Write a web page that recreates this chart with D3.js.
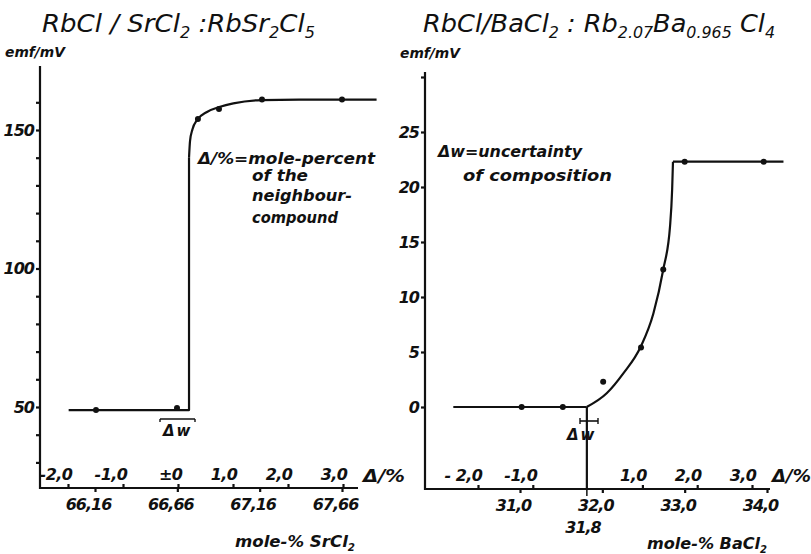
<!DOCTYPE html>
<html><head><meta charset="utf-8">
<script src="https://cdn.jsdelivr.net/npm/d3@7"></script>
<style>
body{margin:0;background:#fff;}
svg text{font-family:"DejaVu Sans","Liberation Sans",sans-serif;font-style:italic;fill:#111;}
</style></head>
<body><svg id="c" width="811" height="554"></svg>
<script>
// ---------- data ----------
// Left panel: RbCl / SrCl2
const leftPtsMole = [66.166, 66.658, 66.785, 66.913, 67.174, 67.66];
const leftPtsEmf  = [48.9, 49.6, 154.0, 157.6, 161.0, 161.0];
const leftStepMole = [66.00, 66.731, 66.731];
const leftStepEmf  = [48.9, 48.9, 140];
const leftKneeMole = [66.731, 66.737, 66.752, 66.78, 66.84, 66.92, 67.0, 67.17, 67.40, 67.87];
const leftKneeEmf  = [140, 146, 150.3, 153.6, 156.5, 158.4, 159.6, 160.8, 161.0, 161.0];
const leftYTicks = [30,40,50,60,70,80,90,100,110,120,130,140,150,160];
const leftYLabels = [50,100,150];
const leftDeltaTicks = [-2,-1,0,1,2,3];
const leftDeltaLabels = ["-2,0","-1,0","±0","1,0","2,0","3,0"];
const leftMoleTicks = [66.16,66.66,67.16,67.66];
const leftMoleLabels = ["66,16","66,66","67,16","67,66"];

// Right panel: RbCl / BaCl2
const rightPtsMole = [31.02, 31.52, 32.01, 32.47, 32.74, 33.00, 33.96];
const rightPtsEmf  = [0, 0, 2.3, 5.4, 12.5, 22.3, 22.3];
const rightFlatMole = [30.19, 31.81];
const rightFlatEmf  = [0, 0];
const rightRiseMole = [31.81, 32.053, 32.255, 32.466, 32.62, 32.74, 32.822, 32.848, 32.858];
const rightRiseEmf  = [0, 1.25, 3.06, 5.48, 8.5, 12.5, 16.4, 19.8, 22.3];
const rightTopMole = [32.858, 34.2];
const rightTopEmf  = [22.3, 22.3];
const rightMarkMole = 31.8;
const rightYTicks = [0,5,10,15,20,25,30];
const rightYLabels = [0,5,10,15,20,25];
const rightDeltaTicks = [-2,-1,1,2,3];
const rightDeltaLabels = ["- 2,0","-1,0","1,0","2,0","3,0"];
const rightMoleTicks = [31,32,33,34];
const rightMoleLabels = ["31,0","32,0","33,0","34,0"];

// ---------- drawing ----------
const svg = d3.select("#c");
const SW = 2.2;

function fit(sel, w){ sel.attr("textLength", w).attr("lengthAdjust","spacingAndGlyphs"); return sel; }

function panel(cfg){
  const x = cfg.x, d = cfg.d, y = cfg.y;
  const g = svg.append("g");
  g.append("line").attr("x1",cfg.ax).attr("x2",cfg.ax).attr("y1",cfg.yTop).attr("y2",cfg.yBot+1)
    .attr("stroke","#111").attr("stroke-width",SW);
  g.append("line").attr("x1",cfg.ax-1).attr("x2",cfg.xEnd).attr("y1",cfg.yBot).attr("y2",cfg.yBot)
    .attr("stroke","#111").attr("stroke-width",SW);
  const ya = g.append("g").attr("transform",`translate(${cfg.ax},0)`)
    .call(d3.axisLeft(y).tickValues(cfg.yTicks).tickSize(4).tickPadding(2)
      .tickFormat(v=>cfg.yLabels.includes(v)? String(v):""));
  ya.select(".domain").remove();
  ya.selectAll("line").attr("stroke","#111").attr("stroke-width",SW);
  ya.selectAll("text").attr("font-size",16).attr("font-weight","bold").attr("fill","#111")
    .attr("font-family",'"DejaVu Sans",sans-serif').attr("letter-spacing",-1);
  const da = g.append("g").attr("transform",`translate(0,${cfg.yBot})`)
    .call(d3.axisTop(d).tickValues(cfg.dTicks).tickSize(4).tickPadding(4)
      .tickFormat((v,i)=>cfg.dLabels[i]));
  da.select(".domain").remove();
  da.selectAll("line").attr("stroke","#111").attr("stroke-width",SW);
  da.selectAll("text").attr("font-size",16).attr("font-weight","bold").attr("fill","#111")
    .attr("text-anchor","end").attr("dx",4).attr("font-family",'"DejaVu Sans",sans-serif').attr("letter-spacing",-0.5);
  const ma = g.append("g").attr("transform",`translate(0,${cfg.yBot})`)
    .call(d3.axisBottom(x).tickValues(cfg.mTicks).tickSize(4).tickPadding(7)
      .tickFormat((v,i)=>cfg.mLabels[i]));
  ma.select(".domain").remove();
  ma.selectAll("line").attr("stroke","#111").attr("stroke-width",SW);
  ma.selectAll("text").attr("font-size",16).attr("font-weight","bold").attr("fill","#111")
    .attr("dx",-7).attr("font-family",'"DejaVu Sans",sans-serif').attr("letter-spacing",-1);
  cfg.lines.forEach(L=>{
    const pts = L.mx.map((m,i)=>[m, L.e[i]]);
    g.append("path").attr("d", d3.line().x(p=>x(p[0])).y(p=>y(p[1])).curve(L.curve)(pts))
      .attr("fill","none").attr("stroke","#111").attr("stroke-width",SW).attr("stroke-linejoin","round");
  });
  g.selectAll("circle.pt").data(cfg.pm.map((m,i)=>[m,cfg.pe[i]])).join("circle")
    .attr("cx",p=>x(p[0])).attr("cy",p=>y(p[1])).attr("r",3).attr("fill","#111");
  return g;
}

// LEFT
const xL = d3.scaleLinear().domain([66.16,67.66]).range([95,342]);
const dL = d3.scaleLinear().domain([-2,3]).range([68,343]);
const yL = d3.scaleLinear().domain([50,150]).range([407,130]);
panel({x:xL,d:dL,y:yL,ax:40,yTop:66,yBot:488,xEnd:358,
  yTicks:leftYTicks,yLabels:leftYLabels,dTicks:leftDeltaTicks,dLabels:leftDeltaLabels,
  mTicks:leftMoleTicks,mLabels:leftMoleLabels,
  lines:[{mx:leftStepMole,e:leftStepEmf,curve:d3.curveLinear},
         {mx:leftKneeMole,e:leftKneeEmf,curve:d3.curveMonotoneX}],
  pm:leftPtsMole,pe:leftPtsEmf});

// RIGHT
const xR = d3.scaleLinear().domain([31,34]).range([520,767]);
const dR = d3.scaleLinear().domain([-2,3]).range([478,752]);
const yR = d3.scaleLinear().domain([0,25]).range([407,132]);
panel({x:xR,d:dR,y:yR,ax:425,yTop:72,yBot:489,xEnd:770,
  yTicks:rightYTicks,yLabels:rightYLabels,dTicks:rightDeltaTicks,dLabels:rightDeltaLabels,
  mTicks:rightMoleTicks,mLabels:rightMoleLabels,
  lines:[{mx:rightFlatMole,e:rightFlatEmf,curve:d3.curveLinear},
         {mx:rightRiseMole,e:rightRiseEmf,curve:d3.curveMonotoneX},
         {mx:rightTopMole,e:rightTopEmf,curve:d3.curveLinear}],
  pm:rightPtsMole,pe:rightPtsEmf});
svg.append("line").attr("x1",xR(rightMarkMole)+1).attr("x2",xR(rightMarkMole)+1)
  .attr("y1",yR(0)).attr("y2",489).attr("stroke","#111").attr("stroke-width",SW);
svg.append("line").attr("x1",xR(rightMarkMole)+1).attr("x2",xR(rightMarkMole)+1)
  .attr("y1",489).attr("y2",496).attr("stroke","#111").attr("stroke-width",1.5);
svg.append("text").attr("x",583).attr("y",533).attr("text-anchor","middle").attr("font-size",16)
  .attr("font-weight","bold").attr("letter-spacing",-1).text("31,8");

// Δw markers
function dw(x1,x2,yb,tx,ty,down){
  svg.append("line").attr("x1",x1).attr("x2",x2).attr("y1",yb).attr("y2",yb).attr("stroke","#111").attr("stroke-width",1.6);
  [x1,x2].forEach(xx=>svg.append("line").attr("x1",xx).attr("x2",xx)
     .attr("y1",down? yb : yb-3).attr("y2",yb+3).attr("stroke","#111").attr("stroke-width",1.4));
  svg.append("text").attr("x",tx).attr("y",ty).attr("font-size",15).attr("font-weight","bold").text("Δw")
    .attr("letter-spacing",2);
}
dw(160,195,419,163,436,true);
dw(580,598,421,567,440,false);

function title2(x,y,parts,size,width){
  const t = svg.append("text").attr("x",x).attr("y",y).attr("font-size",size);
  let lowered=false;
  parts.forEach(p=>{
    if(typeof p === "string"){
      t.append("tspan").attr("dy", lowered? -size*0.25 : 0).attr("font-size",size).text(p); lowered=false;
    } else {
      t.append("tspan").attr("dy", lowered? 0 : size*0.25).attr("font-size",size*0.62).text(p.s); lowered=true;
    }
  });
  if(width) fit(t,width);
  return t;
}
title2(42,32,["RbCl / SrCl",{s:"2"}," :RbSr",{s:"2"},"Cl",{s:"5"}],25,273);
title2(423,32,["RbCl/BaCl",{s:"2"}," : Rb",{s:"2.07"},"Ba",{s:"0.965"}," Cl",{s:"4"}],25,352);

svg.append("text").attr("x",5).attr("y",57).attr("font-size",14).attr("font-weight","bold").text("emf/mV").call(s=>fit(s,60));
svg.append("text").attr("x",400).attr("y",58).attr("font-size",14).attr("font-weight","bold").text("emf/mV").call(s=>fit(s,60));
svg.append("text").attr("x",363).attr("y",482).attr("font-size",17).attr("font-weight","bold").text("Δ/%").call(s=>fit(s,42));
svg.append("text").attr("x",772).attr("y",482).attr("font-size",17).attr("font-weight","bold").text("Δ/%").call(s=>fit(s,39));
title2(235,547,["mole-% SrCl",{s:"2"}],16,120).attr("font-weight","bold");
title2(647,549,["mole-% BaCl",{s:"2"}],16,120).attr("font-weight","bold");

function note(x,y,txt,w){ return svg.append("text").attr("x",x).attr("y",y).attr("font-size",15).attr("font-weight","bold").text(txt).call(s=>fit(s,w)); }
note(198,164,"Δ/%=mole-percent",177);
note(252,181,"of the",56);
note(252,201,"neighbour-",100);
note(252,223,"compound",86);
note(438,157,"Δw=uncertainty",144);
note(463,181,"of composition",149);
</script></body></html>
